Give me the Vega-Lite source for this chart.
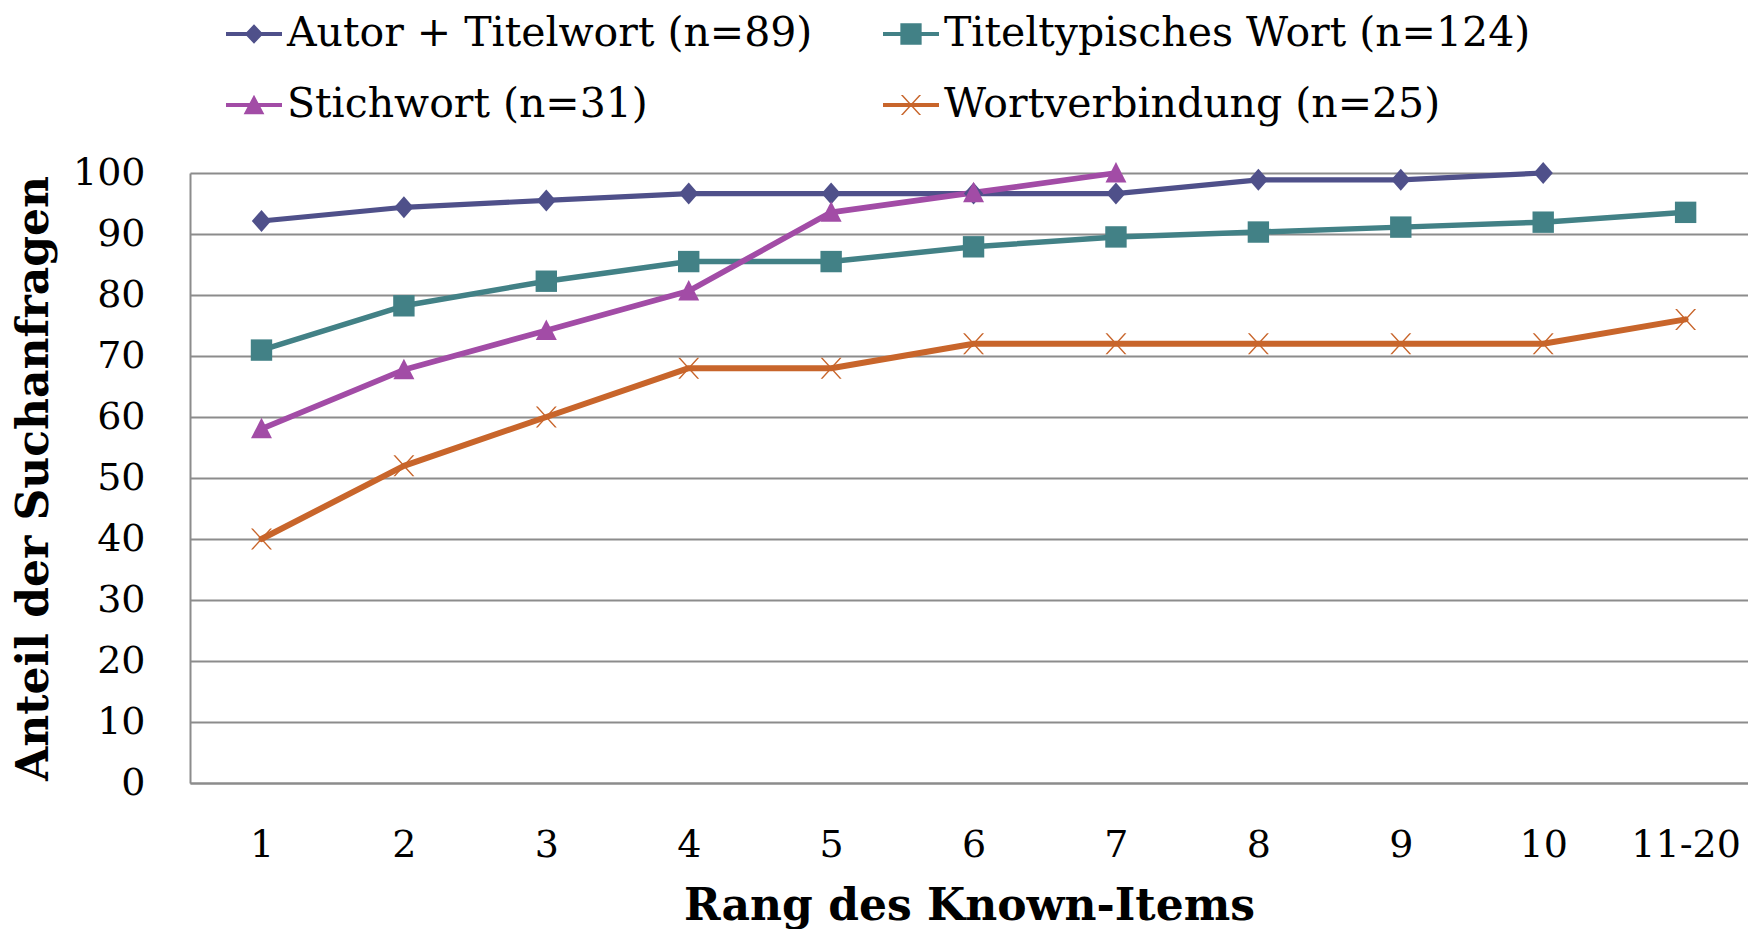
{
  "$schema": "https://vega.github.io/schema/vega-lite/v6.json",
  "autosize": {"type": "none"},
  "padding": {"left": 190, "top": 173, "right": 0, "bottom": 146},
  "width": 1558,
  "height": 610,
  "background": "white",
  "config": {"view": {"stroke": null}, "font": "DejaVu Serif"},
  "data": {
    "values": [
      {"rang": "1", "serie": "Autor + Titelwort (n=89)", "wert": 92.13},
      {"rang": "2", "serie": "Autor + Titelwort (n=89)", "wert": 94.38},
      {"rang": "3", "serie": "Autor + Titelwort (n=89)", "wert": 95.51},
      {"rang": "4", "serie": "Autor + Titelwort (n=89)", "wert": 96.63},
      {"rang": "5", "serie": "Autor + Titelwort (n=89)", "wert": 96.63},
      {"rang": "6", "serie": "Autor + Titelwort (n=89)", "wert": 96.63},
      {"rang": "7", "serie": "Autor + Titelwort (n=89)", "wert": 96.63},
      {"rang": "8", "serie": "Autor + Titelwort (n=89)", "wert": 98.88},
      {"rang": "9", "serie": "Autor + Titelwort (n=89)", "wert": 98.88},
      {"rang": "10", "serie": "Autor + Titelwort (n=89)", "wert": 100},
      {"rang": "1", "serie": "Titeltypisches Wort (n=124)", "wert": 70.97},
      {"rang": "2", "serie": "Titeltypisches Wort (n=124)", "wert": 78.23},
      {"rang": "3", "serie": "Titeltypisches Wort (n=124)", "wert": 82.26},
      {"rang": "4", "serie": "Titeltypisches Wort (n=124)", "wert": 85.48},
      {"rang": "5", "serie": "Titeltypisches Wort (n=124)", "wert": 85.48},
      {"rang": "6", "serie": "Titeltypisches Wort (n=124)", "wert": 87.9},
      {"rang": "7", "serie": "Titeltypisches Wort (n=124)", "wert": 89.52},
      {"rang": "8", "serie": "Titeltypisches Wort (n=124)", "wert": 90.32},
      {"rang": "9", "serie": "Titeltypisches Wort (n=124)", "wert": 91.13},
      {"rang": "10", "serie": "Titeltypisches Wort (n=124)", "wert": 91.94},
      {"rang": "11-20", "serie": "Titeltypisches Wort (n=124)", "wert": 93.55},
      {"rang": "1", "serie": "Stichwort (n=31)", "wert": 58.06},
      {"rang": "2", "serie": "Stichwort (n=31)", "wert": 67.74},
      {"rang": "3", "serie": "Stichwort (n=31)", "wert": 74.19},
      {"rang": "4", "serie": "Stichwort (n=31)", "wert": 80.65},
      {"rang": "5", "serie": "Stichwort (n=31)", "wert": 93.55},
      {"rang": "6", "serie": "Stichwort (n=31)", "wert": 96.77},
      {"rang": "7", "serie": "Stichwort (n=31)", "wert": 100},
      {"rang": "1", "serie": "Wortverbindung (n=25)", "wert": 40},
      {"rang": "2", "serie": "Wortverbindung (n=25)", "wert": 52},
      {"rang": "3", "serie": "Wortverbindung (n=25)", "wert": 60},
      {"rang": "4", "serie": "Wortverbindung (n=25)", "wert": 68},
      {"rang": "5", "serie": "Wortverbindung (n=25)", "wert": 68},
      {"rang": "6", "serie": "Wortverbindung (n=25)", "wert": 72},
      {"rang": "7", "serie": "Wortverbindung (n=25)", "wert": 72},
      {"rang": "8", "serie": "Wortverbindung (n=25)", "wert": 72},
      {"rang": "9", "serie": "Wortverbindung (n=25)", "wert": 72},
      {"rang": "10", "serie": "Wortverbindung (n=25)", "wert": 72},
      {"rang": "11-20", "serie": "Wortverbindung (n=25)", "wert": 76}
    ]
  },
  "encoding": {
    "x": {
      "field": "rang",
      "type": "ordinal",
      "sort": ["1", "2", "3", "4", "5", "6", "7", "8", "9", "10", "11-20"],
      "scale": {"type": "point", "padding": 0.47, "align": 0.534},
      "axis": {
        "title": "Rang des Known-Items",
        "titleFont": "DejaVu Serif",
        "titleFontSize": 44,
        "titleFontWeight": "bold",
        "titleColor": "black",
        "titlePadding": 20,
        "labelFont": "DejaVu Serif",
        "labelFontSize": 38,
        "labelColor": "black",
        "labelAngle": 0,
        "labelPadding": 43,
        "ticks": false,
        "grid": false,
        "domainColor": "#8c8c8c",
        "domainWidth": 2
      }
    },
    "y": {
      "field": "wert",
      "type": "quantitative",
      "scale": {"domain": [0, 100], "nice": false},
      "axis": {
        "values": [0, 10, 20, 30, 40, 50, 60, 70, 80, 90, 100],
        "title": "Anteil der Suchanfragen",
        "titleFont": "DejaVu Serif",
        "titleFontSize": 44,
        "titleFontWeight": "bold",
        "titleColor": "black",
        "titlePadding": 16,
        "labelFont": "DejaVu Serif",
        "labelFontSize": 38,
        "labelColor": "black",
        "labelPadding": 45,
        "ticks": false,
        "grid": true,
        "gridColor": "#8c8c8c",
        "gridWidth": 2,
        "domainColor": "#8c8c8c",
        "domainWidth": 2
      }
    },
    "color": {
      "field": "serie",
      "type": "nominal",
      "scale": {
        "domain": ["Autor + Titelwort (n=89)", "Titeltypisches Wort (n=124)", "Stichwort (n=31)", "Wortverbindung (n=25)"],
        "range": ["#4f508a", "#428186", "#a24ca6", "#c8652b"]
      },
      "legend": {
        "orient": "none",
        "legendX": 36,
        "legendY": -167,
        "direction": "horizontal",
        "columns": 2,
        "title": null,
        "symbolSize": 3136,
        "symbolStrokeWidth": 0,
        "symbolOpacity": 1,
        "symbolType": {"expr": "datum.value === 'Autor + Titelwort (n=89)' ? 'M-1,-0.072H1V0.072H-1Z M0,-0.35L0.33,0L0,0.35L-0.33,0Z' : datum.value === 'Titeltypisches Wort (n=124)' ? 'M-1,-0.072H1V0.072H-1Z M-0.38,-0.38H0.38V0.38H-0.38Z' : datum.value === 'Stichwort (n=31)' ? 'M-1,-0.072H1V0.072H-1Z M0,-0.37L0.37,0.33H-0.37Z' : 'M-1,-0.072H1V0.072H-1Z M-0.36,-0.36L-0.29,-0.36L0.36,0.36L0.29,0.36Z M0.29,-0.36L0.36,-0.36L-0.29,0.36L-0.36,0.36Z'"},
        "labelFont": "DejaVu Serif",
        "labelFontSize": 41,
        "labelColor": "black",
        "labelOffset": 5,
        "labelLimit": 1000,
        "rowPadding": 23,
        "columnPadding": 70
      }
    }
  },
  "layer": [
    {
      "mark": {"type": "line", "strokeCap": "round", "strokeJoin": "round"},
      "encoding": {
        "strokeWidth": {
          "field": "serie",
          "type": "nominal",
          "scale": {
            "domain": ["Wortverbindung (n=25)", "Stichwort (n=31)", "Titeltypisches Wort (n=124)", "Autor + Titelwort (n=89)"],
            "range": [6, 5.2, 4.6, 4.8]
          },
          "legend": null
        }
      }
    },
    {
      "mark": {"type": "point", "filled": true, "opacity": 1, "size": 440, "strokeWidth": 0},
      "encoding": {
        "shape": {
          "field": "serie",
          "type": "nominal",
          "scale": {
            "domain": ["Wortverbindung (n=25)", "Stichwort (n=31)", "Titeltypisches Wort (n=124)", "Autor + Titelwort (n=89)"],
            "range": [
              "M-1,-1L-0.82,-1L1,1L0.82,1Z M0.82,-1L1,-1L-0.82,1L-1,1Z",
              "M0,-1.05L1,0.9H-1Z",
              "M-1.02,-1.02H1.02V1.02H-1.02Z",
              "M0,-1.05L0.92,0L0,1.05L-0.92,0Z"
            ]
          },
          "legend": null
        }
      }
    }
  ]
}
